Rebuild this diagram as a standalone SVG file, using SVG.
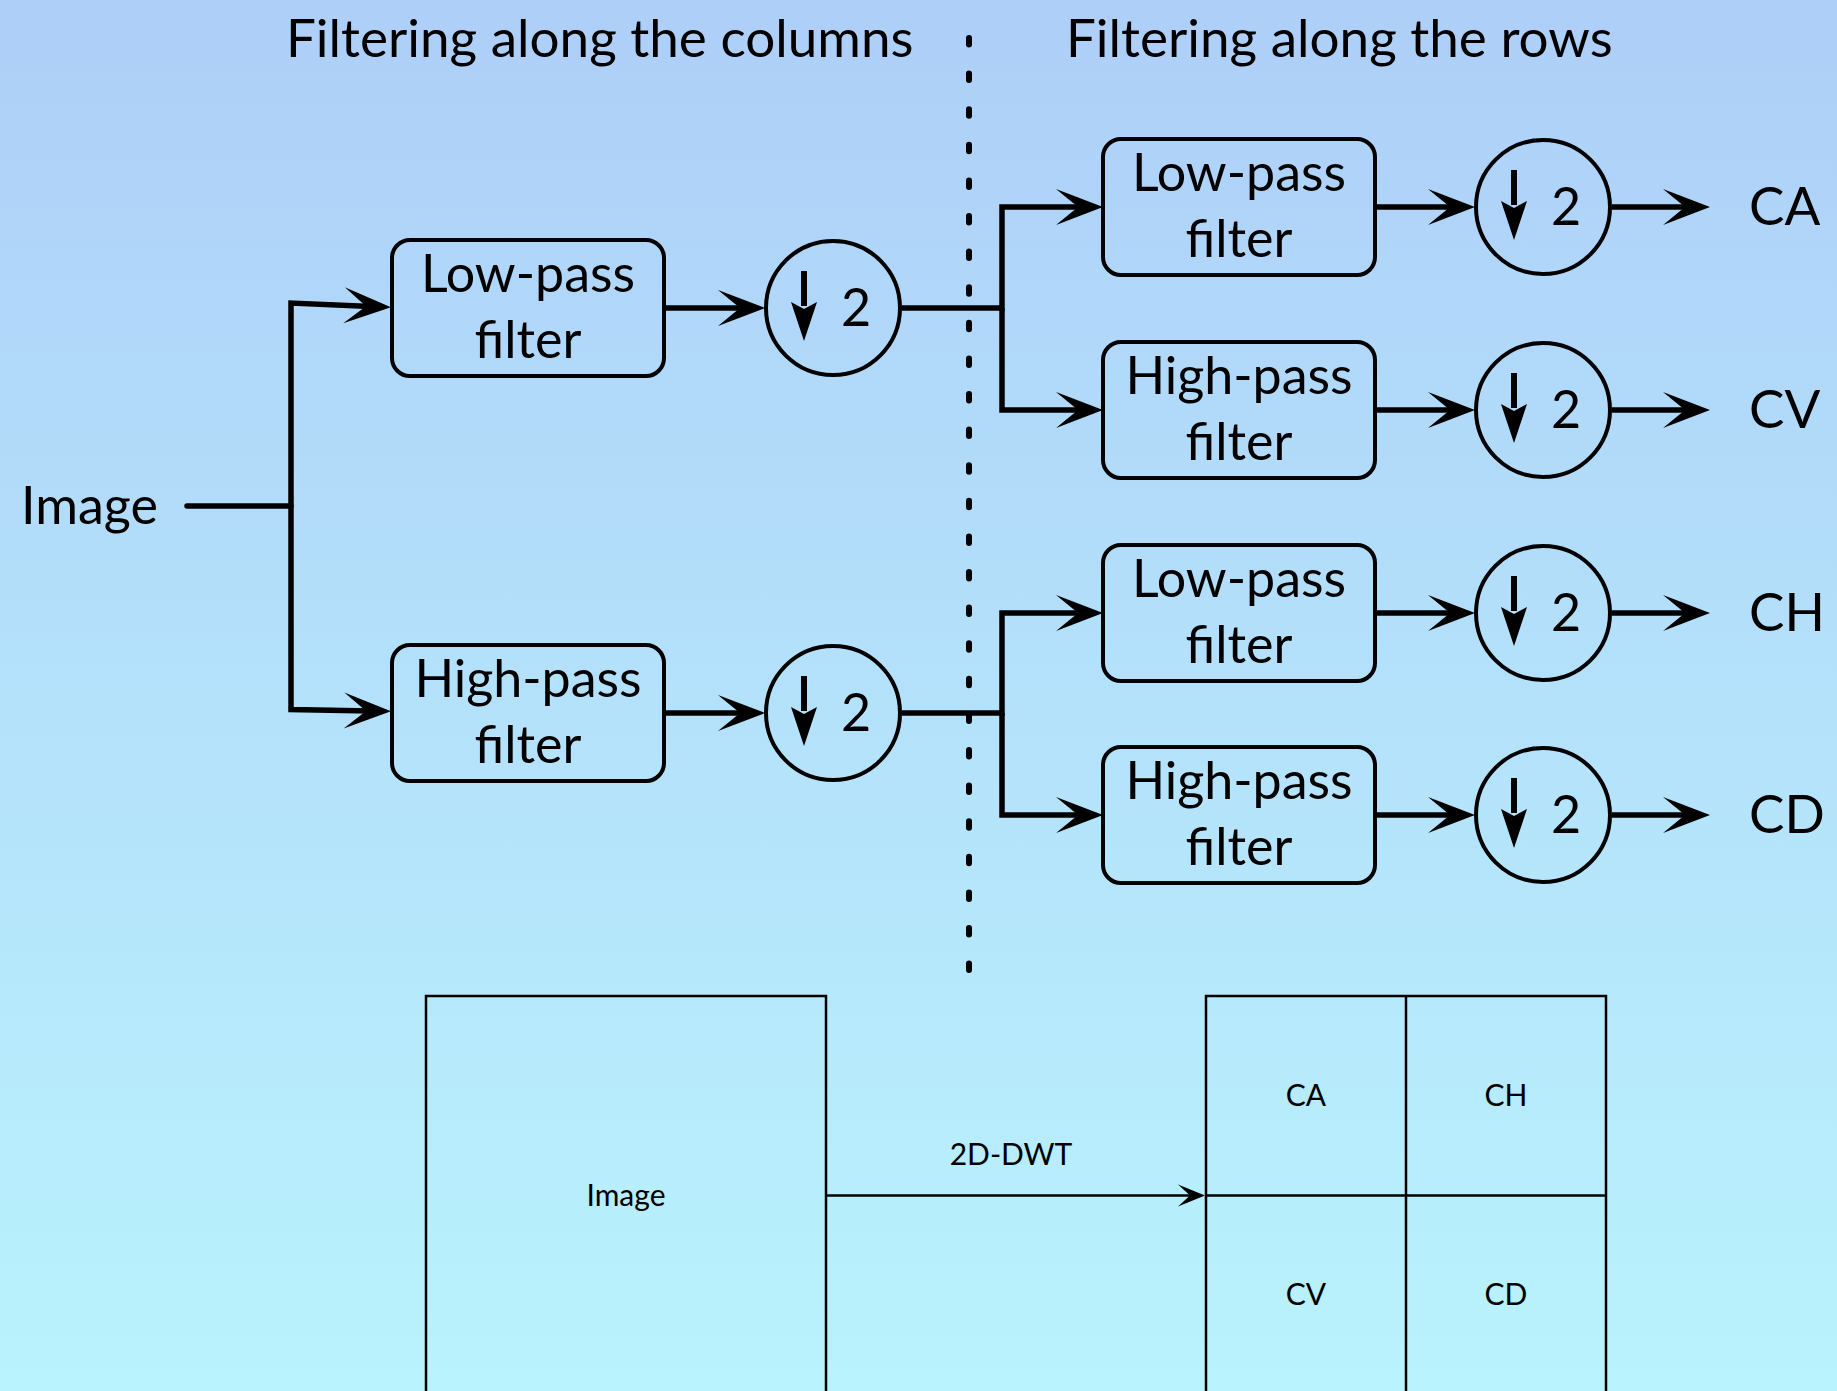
<svg xmlns="http://www.w3.org/2000/svg" xmlns:xlink="http://www.w3.org/1999/xlink" width="1837" height="1391" viewBox="0 0 1837 1391">
  <defs>
    <linearGradient id="bg" x1="0" y1="0" x2="0" y2="1">
      <stop offset="0" stop-color="#aecff8"/>
      <stop offset="1" stop-color="#b9f3fd"/>
    </linearGradient>
    <marker id="arr" markerUnits="userSpaceOnUse" viewBox="-30 -20 52 40" markerWidth="52" markerHeight="40" refX="0" refY="0" orient="auto" overflow="visible">
      <path d="M20,0 L-27,-18 L-5,0 L-27,18 Z" fill="#000"/>
    </marker>
    <marker id="arrSmall" markerUnits="userSpaceOnUse" viewBox="-20 -14 34 28" markerWidth="34" markerHeight="28" refX="0" refY="0" orient="auto" overflow="visible">
      <path d="M13,0 L-14,-11 L-2,0 L-14,11 Z" fill="#000"/>
    </marker>
    <g id="down2">
      <path d="M-29,-37 V-2" stroke="#000" stroke-width="6" fill="none"/>
      <path d="M-42,-6 L-29,33 L-16,-6 L-29,1 Z" fill="#000"/>
      <text x="8" y="17.5" class="big" style="font-size:52px">2</text>
    </g>
  </defs>
  <style>
    .big { font-family: Lato, "Liberation Sans", sans-serif; font-size: 52px; fill: #000; }
    .title { font-size: 53px; }
    .small { font-family: Lato, "Liberation Sans", sans-serif; font-size: 30px; fill: #000; text-anchor: middle; }
    .mid { text-anchor: middle; }
    .box { fill: none; stroke: #000; stroke-width: 4; }
    .circ { fill: none; stroke: #000; stroke-width: 4; }
    .conn { fill: none; stroke: #000; stroke-width: 5.5; stroke-linejoin: miter; }
    .thin { fill: none; stroke: #000; stroke-width: 2.5; }
  </style>

  <rect x="0" y="0" width="1837" height="1391" fill="url(#bg)"/>

  <!-- headings -->
  <g id="headings">
    <text class="big title" x="286" y="57">Filtering along the columns</text>
    <text class="big title" x="1066" y="57">Filtering along the rows</text>
  </g>

  <!-- separator -->
  <path id="separator" d="M969,38 V975" stroke="#000" stroke-width="6" stroke-linecap="round" stroke-dasharray="6.5 29.1" fill="none"/>

  <!-- input label -->
  <g id="input">
    <text class="big" x="21" y="524">Image</text>
  </g>

  <!-- column stage -->
  <g id="lp1">
    <rect class="box" x="392" y="240" width="272" height="136" rx="18"/>
    <text class="big mid" x="528" y="292">Low-pass</text>
    <text class="big mid" x="528" y="358">filter</text>
  </g>
  <g id="hp1">
    <rect class="box" x="392" y="645" width="272" height="136" rx="18"/>
    <text class="big mid" x="528" y="697">High-pass</text>
    <text class="big mid" x="528" y="763">filter</text>
  </g>
  <g id="ds1">
    <circle class="circ" cx="833" cy="308" r="67"/>
    <use xlink:href="#down2" href="#down2" x="833" y="308"/>
  </g>
  <g id="ds2">
    <circle class="circ" cx="833" cy="713" r="67"/>
    <use xlink:href="#down2" href="#down2" x="833" y="713"/>
  </g>

  <!-- row stage -->
  <g id="lp2">
    <rect class="box" x="1103" y="139" width="272" height="136" rx="18"/>
    <text class="big mid" x="1239" y="191">Low-pass</text>
    <text class="big mid" x="1239" y="257">filter</text>
  </g>
  <g id="hp2">
    <rect class="box" x="1103" y="342" width="272" height="136" rx="18"/>
    <text class="big mid" x="1239" y="394">High-pass</text>
    <text class="big mid" x="1239" y="460">filter</text>
  </g>
  <g id="lp3">
    <rect class="box" x="1103" y="545" width="272" height="136" rx="18"/>
    <text class="big mid" x="1239" y="597">Low-pass</text>
    <text class="big mid" x="1239" y="663">filter</text>
  </g>
  <g id="hp3">
    <rect class="box" x="1103" y="747" width="272" height="136" rx="18"/>
    <text class="big mid" x="1239" y="799">High-pass</text>
    <text class="big mid" x="1239" y="865">filter</text>
  </g>
  <g id="ds3">
    <circle class="circ" cx="1543" cy="207" r="67"/>
    <use xlink:href="#down2" href="#down2" x="1543" y="207"/>
  </g>
  <g id="ds4">
    <circle class="circ" cx="1543" cy="410" r="67"/>
    <use xlink:href="#down2" href="#down2" x="1543" y="410"/>
  </g>
  <g id="ds5">
    <circle class="circ" cx="1543" cy="613" r="67"/>
    <use xlink:href="#down2" href="#down2" x="1543" y="613"/>
  </g>
  <g id="ds6">
    <circle class="circ" cx="1543" cy="815" r="67"/>
    <use xlink:href="#down2" href="#down2" x="1543" y="815"/>
  </g>

  <!-- outputs -->
  <g id="outputs">
    <text class="big" x="1749" y="225" style="font-size:53px">CA</text>
    <text class="big" x="1749" y="428" style="font-size:53px">CV</text>
    <text class="big" x="1749" y="631" style="font-size:53px">CH</text>
    <text class="big" x="1749" y="833" style="font-size:53px">CD</text>
  </g>

  <!-- connectors -->
  <g id="connectors">
    <path class="conn" d="M187,506 H291" stroke-linecap="round"/>
    <path class="conn" d="M291,506 V303 L371,306.5" marker-end="url(#arr)"/>
    <path class="conn" d="M291,506 V709.5 L371,711" marker-end="url(#arr)"/>
    <path class="conn" d="M664,308 H745" marker-end="url(#arr)"/>
    <path class="conn" d="M664,713 H745" marker-end="url(#arr)"/>
    <path class="conn" d="M902,308 H1002 V207 H1083" marker-end="url(#arr)"/>
    <path class="conn" d="M1002,308 V410 H1083" marker-end="url(#arr)"/>
    <path class="conn" d="M902,713 H1002 V613 H1083" marker-end="url(#arr)"/>
    <path class="conn" d="M1002,713 V815 H1083" marker-end="url(#arr)"/>
    <path class="conn" d="M1375,207 H1455" marker-end="url(#arr)"/>
    <path class="conn" d="M1375,410 H1455" marker-end="url(#arr)"/>
    <path class="conn" d="M1375,613 H1455" marker-end="url(#arr)"/>
    <path class="conn" d="M1375,815 H1455" marker-end="url(#arr)"/>
    <path class="conn" d="M1612,207 H1690" marker-end="url(#arr)"/>
    <path class="conn" d="M1612,410 H1690" marker-end="url(#arr)"/>
    <path class="conn" d="M1612,613 H1690" marker-end="url(#arr)"/>
    <path class="conn" d="M1612,815 H1690" marker-end="url(#arr)"/>
    <path class="thin" d="M826,1195.5 H1192" marker-end="url(#arrSmall)"/>
  </g>

  <!-- summary figure -->
  <g id="image-block">
    <rect class="thin" x="426" y="996" width="400" height="500"/>
    <text class="small" x="626" y="1206">Image</text>
  </g>
  <text class="small" x="1011" y="1165">2D-DWT</text>
  <g id="coeff-block">
    <rect class="thin" x="1206" y="996" width="400" height="500"/>
    <path class="thin" d="M1406,996 V1391 M1206,1195.5 H1606"/>
    <text class="small" x="1306" y="1106">CA</text>
    <text class="small" x="1506" y="1106">CH</text>
    <text class="small" x="1306" y="1305">CV</text>
    <text class="small" x="1506" y="1305">CD</text>
  </g>
</svg>
